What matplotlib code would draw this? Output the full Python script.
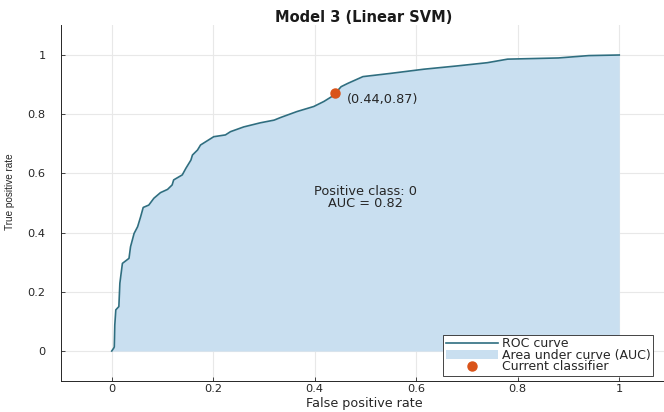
import numpy as np
import matplotlib
matplotlib.use("Agg")
import matplotlib.pyplot as plt

# ROC data (false positive rate, true positive rate)
fpr = [0.0, 0.004, 0.005, 0.006, 0.008, 0.014, 0.016, 0.021, 0.034, 0.037, 0.044, 0.051, 0.057,
       0.062, 0.073, 0.083, 0.096, 0.110, 0.119, 0.122, 0.139, 0.146, 0.156, 0.159,
       0.169, 0.175, 0.188, 0.201, 0.224, 0.234, 0.260, 0.293, 0.320, 0.333, 0.365,
       0.398, 0.418, 0.434, 0.440, 0.452, 0.465, 0.495, 0.550, 0.615, 0.680, 0.740,
       0.780, 0.880, 0.940, 1.000]
tpr = [0.0, 0.010, 0.014, 0.088, 0.139, 0.150, 0.229, 0.296, 0.313, 0.352, 0.397, 0.420, 0.454,
       0.485, 0.493, 0.516, 0.535, 0.546, 0.561, 0.578, 0.595, 0.617, 0.645, 0.662,
       0.679, 0.696, 0.710, 0.724, 0.730, 0.741, 0.757, 0.771, 0.780, 0.789, 0.809,
       0.826, 0.843, 0.860, 0.870, 0.893, 0.904, 0.927, 0.938, 0.952, 0.963, 0.974,
       0.986, 0.990, 0.998, 1.000]
current_fpr = 0.44
current_tpr = 0.87
auc_value = 0.82
positive_class = 0
ticks = [0, 0.2, 0.4, 0.6, 0.8, 1]
tick_labels = ["0", "0.2", "0.4", "0.6", "0.8", "1"]

plt.rcParams['font.family'] = ['DejaVu Sans']

fig = plt.figure(figsize=(6.64, 4.12), dpi=100)
ax = fig.add_axes([61/664, 1 - 380.6/412, (670-61)/664, (380.6-25.4)/412])

line_col = '#2f6e80'
fill_col = '#c9dff0'
mark_col = '#d95319'
txt_col = '#262626'

ax.fill_between(fpr, tpr, 0, color=fill_col, linewidth=0,
                label='Area under curve (AUC)', zorder=2)
ax.plot(fpr, tpr, color=line_col, lw=1.2, label='ROC curve', zorder=3)
ax.plot([current_fpr], [current_tpr], 'o', color=mark_col, ms=6.5,
        label='Current classifier', zorder=4, linestyle='none')

ax.text(current_fpr + 0.024, current_tpr - 0.022, f"({current_fpr:.2f},{current_tpr:.2f})",
        fontsize=9.3, color=txt_col, va='center', ha='left', zorder=5)
ax.text(0.50, 0.54, f"Positive class: {positive_class}", fontsize=9.3, color=txt_col,
        ha='center', va='center', zorder=5)
ax.text(0.50, 0.50, f"AUC = {auc_value:.2f}", fontsize=9.3, color=txt_col,
        ha='center', va='center', zorder=5)

ax.set_xlim(-0.1, 1.1)
ax.set_ylim(-0.1, 1.1)
ax.set_xticks(ticks)
ax.set_xticklabels(tick_labels)
ax.set_yticks(ticks)
ax.set_yticklabels(tick_labels)
ax.tick_params(direction='in', length=3, width=0.6, colors=txt_col, labelsize=8.2)
ax.tick_params(axis='y', pad=11)
ax.tick_params(axis='x', pad=2.5)
ax.grid(True, color='#e8e8e8', lw=0.8, zorder=0)
ax.set_axisbelow(True)
for s in ['top', 'right']:
    ax.spines[s].set_visible(False)
for s in ['left', 'bottom']:
    ax.spines[s].set_color(txt_col)
    ax.spines[s].set_linewidth(0.7)

ax.set_title("Model 3 (Linear SVM)", fontsize=10.5, fontweight='bold', color='#1a1a1a',
             x=(364-61)/(670-61), pad=2)
ax.set_xlabel("False positive rate", fontsize=9.2, color=txt_col)
ax.xaxis.set_label_coords((364-61)/(670-61), (380.6-397.5)/(380.6-25.4))
ax.set_ylabel("True positive rate", fontsize=7.2, color=txt_col,
              family=['Liberation Sans', 'DejaVu Sans'])
ax.yaxis.set_label_coords(-(61-15)/(670-61), (380.6-192)/(380.6-25.4))

h, l = ax.get_legend_handles_labels()
order = [l.index('ROC curve'), l.index('Area under curve (AUC)'), l.index('Current classifier')]
leg = ax.legend([h[i] for i in order], [l[i] for i in order],
                loc='lower right', bbox_to_anchor=(653/664, 1 - 376/412),
                bbox_transform=fig.transFigure, fontsize=9, frameon=True,
                fancybox=False, edgecolor=txt_col, framealpha=1,
                handlelength=4.2, labelspacing=-0.1, borderpad=0.2,
                handletextpad=0.3, borderaxespad=0)
leg.get_frame().set_linewidth(0.6)
for t in leg.get_texts():
    t.set_color(txt_col)

fig.savefig("out.png", dpi=100)
